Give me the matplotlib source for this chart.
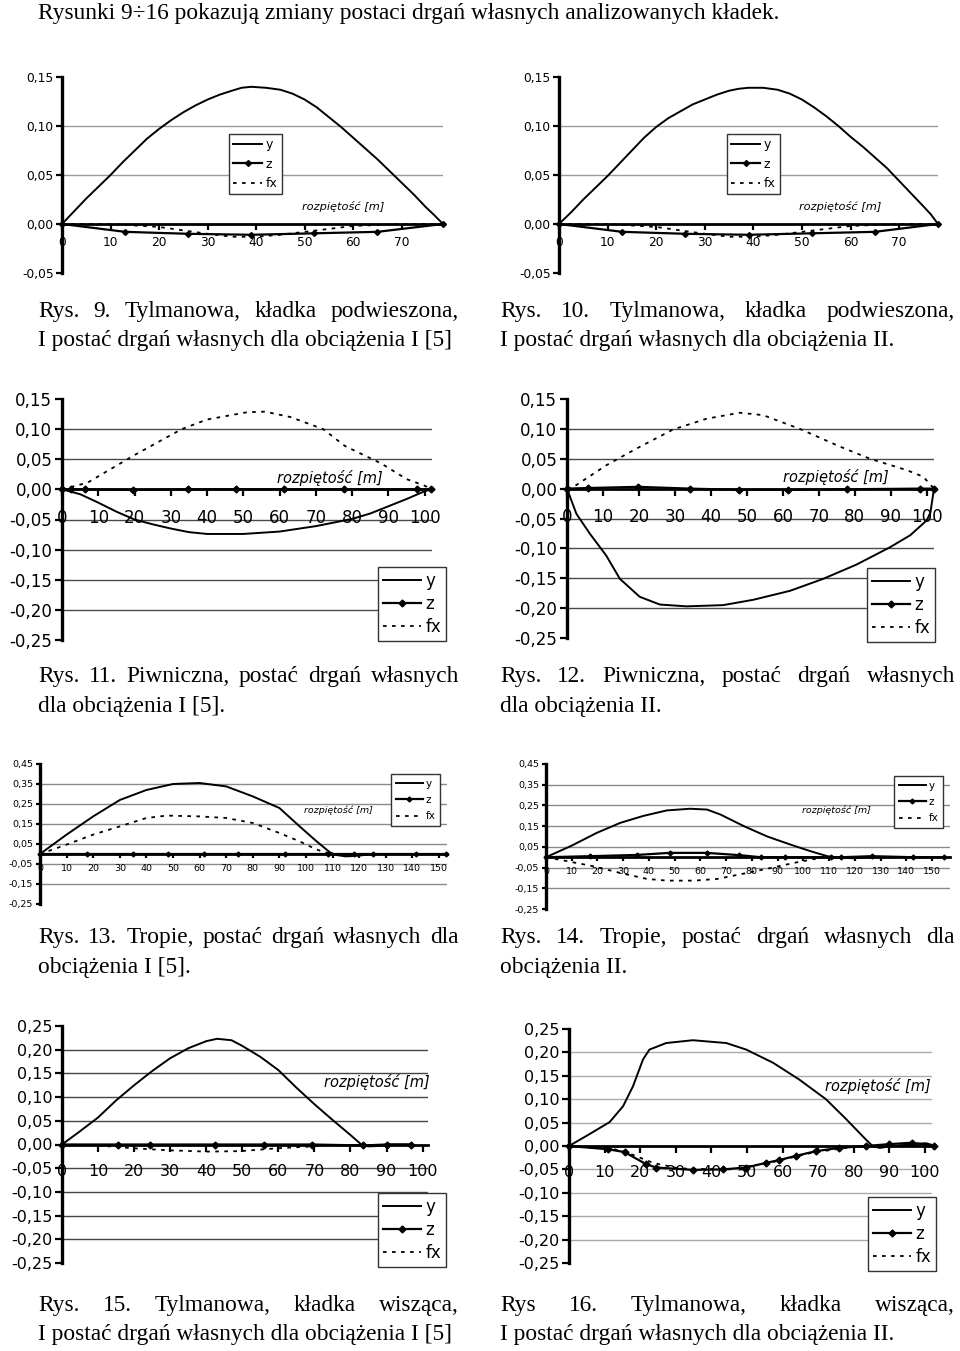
import matplotlib
matplotlib.use("Agg")
import matplotlib.pyplot as plt

W, H = 960, 1351

# ---------------- data ----------------
# Rys. 9
p9_y_x = [0, 2.5, 5, 7.5, 10, 12.5, 15, 17.5, 20, 22.5, 25, 27.5, 30, 32.5, 35, 37, 39, 42, 45, 47.5, 50, 52.5, 55, 57.5, 60, 62.5, 65, 67.5, 70, 72.5, 75, 76.5, 78.5]
p9_y = [0, 0.013, 0.026, 0.038, 0.05, 0.063, 0.075, 0.087, 0.097, 0.106, 0.114, 0.121, 0.127, 0.132, 0.136, 0.139, 0.14, 0.139, 0.137, 0.133, 0.127, 0.119, 0.109, 0.099, 0.088, 0.077, 0.066, 0.054, 0.042, 0.030, 0.017, 0.010, 0]
p9_z_x = [0, 13, 26, 39, 52, 65, 78.5]
p9_z = [0, -0.008, -0.010, -0.011, -0.0095, -0.008, 0]
p9_fx_x = [0, 10, 20, 30, 35, 40, 45, 50, 60, 70, 78.5]
p9_fx = [0, 0, -0.003, -0.010, -0.013, -0.013, -0.011, -0.008, -0.002, 0, 0]
# Rys. 10
p10_y_x = [0, 2.5, 5, 7.5, 10, 12.5, 15, 17.5, 20, 22.5, 25, 27.5, 30, 32.5, 35, 37, 39, 42, 45, 47.5, 50, 52.5, 55, 57.5, 60, 62.5, 65, 67.5, 70, 72.5, 75, 76.5, 78]
p10_y = [0, 0.012, 0.025, 0.037, 0.049, 0.062, 0.075, 0.088, 0.099, 0.108, 0.115, 0.122, 0.127, 0.132, 0.136, 0.138, 0.139, 0.139, 0.137, 0.133, 0.127, 0.119, 0.110, 0.100, 0.089, 0.079, 0.068, 0.057, 0.044, 0.031, 0.018, 0.01, 0]
p10_z_x = [0, 13, 26, 39, 52, 65, 78]
p10_z = [0, -0.008, -0.010, -0.011, -0.0095, -0.008, 0]
p10_fx_x = [0, 10, 20, 30, 35, 40, 45, 50, 60, 70, 78]
p10_fx = [0, 0, -0.003, -0.010, -0.013, -0.013, -0.011, -0.008, -0.002, 0, 0]
# Rys. 11
p11_y_x = [0, 5, 10, 15, 20, 25, 30, 35, 40, 50, 60, 70, 80, 85, 90, 95, 100, 102]
p11_y = [0, -0.008, -0.022, -0.037, -0.05, -0.058, -0.065, -0.071, -0.074, -0.074, -0.07, -0.061, -0.049, -0.04, -0.028, -0.016, -0.003, 0]
p11_z_x = [0, 2.5, 6.4, 19.7, 34.7, 47.9, 61.3, 77.7, 97.9, 101.8]
p11_z = [0, 0, 0, -0.001, 0, 0, 0, 0, 0, 0]
p11_fx_x = [0, 7, 20, 33, 40, 51, 56, 63, 72, 78, 88, 95, 100, 102]
p11_fx = [0, 0.011, 0.057, 0.1, 0.116, 0.128, 0.129, 0.12, 0.1, 0.072, 0.043, 0.017, 0.006, 0]
# Rys. 12
p12_y_x = [0, 2.6, 6.3, 10.9, 14.7, 20.2, 25.8, 33.2, 43.4, 51.8, 62, 71.2, 80.5, 89.8, 95.4, 100, 101, 102]
p12_y = [0, -0.042, -0.075, -0.112, -0.151, -0.181, -0.194, -0.197, -0.195, -0.186, -0.171, -0.151, -0.127, -0.098, -0.078, -0.053, -0.04, 0]
p12_z_x = [0, 5.7, 19.8, 34.3, 47.9, 61.5, 77.9, 98, 101.9]
p12_z = [0, 0.001, 0.003, 0, -0.002, -0.002, -0.001, 0, 0]
p12_fx_x = [0, 2.6, 10.9, 19.3, 29.5, 38.8, 48, 54.5, 64.7, 76, 84.2, 94.4, 99, 102]
p12_fx = [0, 0.006, 0.039, 0.067, 0.099, 0.117, 0.127, 0.123, 0.1, 0.07, 0.05, 0.031, 0.02, 0]
# Rys. 13
p13_y_x = [0, 10, 20, 30, 40, 50, 60, 70, 80, 90, 97.6, 104, 109, 111.4, 115, 120, 125, 153]
p13_y = [0, 0.097, 0.188, 0.27, 0.32, 0.35, 0.355, 0.338, 0.288, 0.23, 0.138, 0.063, 0.008, -0.005, -0.012, -0.008, 0, 0]
p13_z_x = [0, 17.8, 35, 48.2, 61.7, 74.5, 92, 108.3, 117.9, 125.2, 141.2, 152.7]
p13_z = [0, 0, 0, 0, 0, 0, 0, 0, 0, 0, 0, 0]
p13_fx_x = [0, 10, 20, 30, 40, 47.6, 60, 70, 80, 90, 97.6, 104, 109, 111]
p13_fx = [0, 0.047, 0.097, 0.138, 0.18, 0.192, 0.188, 0.18, 0.155, 0.105, 0.063, 0.022, 0.002, 0]
# Rys. 14
p14_y_x = [0, 10, 19.8, 28.9, 38, 47, 56, 62.6, 67.8, 76.9, 86, 95, 102.8, 109.3, 114.5, 119.7, 125, 135]
p14_y = [0, 0.056, 0.118, 0.166, 0.2, 0.226, 0.234, 0.23, 0.206, 0.15, 0.1, 0.061, 0.029, 0.005, -0.003, -0.005, 0, 0]
p14_z_x = [0, 17.2, 35.4, 48, 62.4, 75.1, 83.4, 92.9, 110.9, 114.8, 126.6, 142.7, 154.7]
p14_z = [0, 0.005, 0.011, 0.021, 0.021, 0.01, 0, 0, 0, 0, 0.005, 0, 0]
p14_fx_x = [0, 8.2, 18.5, 28.9, 39.3, 47, 57.5, 66.5, 76.9, 87.3, 97.7, 106.7, 110.6]
p14_fx = [0, -0.019, -0.044, -0.076, -0.105, -0.113, -0.113, -0.105, -0.079, -0.052, -0.024, -0.003, 0]
# Rys. 15
p15_y_x = [0, 5, 10, 15, 20, 25, 30, 35, 40, 43, 47, 50, 55, 60, 65, 70, 75, 80, 83, 85, 88, 90, 97]
p15_y = [0, 0.028, 0.057, 0.093, 0.125, 0.155, 0.182, 0.203, 0.218, 0.223, 0.22, 0.208, 0.185, 0.157, 0.12, 0.085, 0.052, 0.02, 0, -0.004, -0.003, 0, 0]
p15_z_x = [0, 15.4, 24.3, 42.3, 56.1, 69.3, 83.6, 90, 96.7]
p15_z = [0, 0, 0, 0, 0, 0, -0.002, 0, 0]
p15_fx_x = [0, 10, 19.9, 29, 40, 49.4, 59.6, 71.6, 75]
p15_fx = [0, -0.002, -0.008, -0.012, -0.015, -0.014, -0.008, -0.003, 0]
# Rys. 16
p16_y_x = [0, 5, 11.4, 15.2, 18, 20.8, 22.6, 27.3, 34.8, 44.2, 49.8, 57.3, 64.7, 72.2, 77.8, 83.4, 85.3, 87.2, 90.9, 96.5, 100.3, 102.6]
p16_y = [0, 0.022, 0.051, 0.085, 0.128, 0.185, 0.206, 0.22, 0.226, 0.22, 0.206, 0.178, 0.142, 0.1, 0.058, 0.014, 0, -0.004, 0, 0.004, 0.006, 0.001]
p16_z_x = [0, 11, 15.6, 21.7, 24.5, 34.8, 43.2, 49.8, 55.4, 59.1, 63.8, 69.4, 76, 83.4, 90, 96.5, 102.6]
p16_z = [0, -0.007, -0.013, -0.039, -0.046, -0.051, -0.05, -0.046, -0.036, -0.03, -0.021, -0.011, -0.004, 0, 0.004, 0.007, 0]
p16_fx_x = [0, 10, 15, 23.6, 31, 45, 56.3, 68.5, 77.8, 84, 88, 95, 102.6]
p16_fx = [0, -0.004, -0.01, -0.036, -0.048, -0.05, -0.036, -0.014, -0.004, 0, -0.003, 0.002, 0]

yticks_a = [-0.05, 0.0, 0.05, 0.10, 0.15]
yticks_b = [-0.25, -0.20, -0.15, -0.10, -0.05, 0.0, 0.05, 0.10, 0.15]
yticks_c = [-0.25, -0.15, -0.05, 0.05, 0.15, 0.25, 0.35, 0.45]
yticks_d = [-0.25, -0.20, -0.15, -0.10, -0.05, 0.0, 0.05, 0.10, 0.15, 0.20, 0.25]
xticks_80 = [0, 10, 20, 30, 40, 50, 60, 70]
xticks_100 = [0, 10, 20, 30, 40, 50, 60, 70, 80, 90, 100]
xticks_150 = [0, 10, 20, 30, 40, 50, 60, 70, 80, 90, 100, 110, 120, 130, 140, 150]

x_label = "rozpiętość [m]"
series_names = ["y", "z", "fx"]

title = "Rysunki 9÷16 pokazują zmiany postaci drgań własnych analizowanych kładek."
captions = [
    ("Rys. 9. Tylmanowa, kładka podwieszona,", "I postać drgań własnych dla obciążenia I [5]"),
    ("Rys. 10. Tylmanowa, kładka podwieszona,", "I postać drgań własnych dla obciążenia II."),
    ("Rys. 11. Piwniczna, postać drgań własnych", "dla obciążenia I [5]."),
    ("Rys. 12. Piwniczna, postać drgań własnych", "dla obciążenia II."),
    ("Rys. 13. Tropie, postać drgań własnych dla", "obciążenia I [5]."),
    ("Rys. 14. Tropie, postać drgań własnych dla", "obciążenia II."),
    ("Rys. 15. Tylmanowa, kładka wisząca,", "I postać drgań własnych dla obciążenia I [5]"),
    ("Rys 16. Tylmanowa, kładka wisząca,", "I postać drgań własnych dla obciążenia II."),
]

# ---------------- drawing ----------------
fig = plt.figure(figsize=(W / 100, H / 100), dpi=100)
fig.patch.set_facecolor("white")
SERIF = ["Liberation Serif", "DejaVu Serif"]
SANS = ["DejaVu Sans"]


def fx_(x):
    return x / W


def fy_(y):
    return 1 - y / H


def make_ax(left, top, right, bottom):
    return fig.add_axes([left / W, 1 - bottom / H, (right - left) / W, (bottom - top) / H])


def fmt(v):
    s = f"{v:.2f}".replace(".", ",")
    if s == "-0,00":
        s = "0,00"
    return s


def panel(box, xlim, ylim, yticks, xticks, data, fs, grid_color, tick_len, xpad,
          lab_pos, lab_fs, leg_pos, leg_fs, leg_kw, ms, lw_y=1.4, lw_z=1.6):
    ax = make_ax(*box)
    ax.set_xlim(*xlim)
    ax.set_ylim(*ylim)
    ax.patch.set_alpha(0)
    for s in ["top", "right"]:
        ax.spines[s].set_visible(False)
    ax.spines["bottom"].set_position(("data", 0))
    ax.spines["bottom"].set_linewidth(2.0)
    ax.spines["left"].set_linewidth(2.4)
    ax.spines["left"].set_zorder(5)
    ax.set_yticks(yticks, labels=[fmt(v) for v in yticks])
    ax.set_xticks(xticks, labels=[str(v) for v in xticks])
    ax.tick_params(axis="x", direction="out", length=tick_len, width=1.6, pad=xpad,
                   labelsize=fs, colors="black")
    ax.tick_params(axis="y", direction="out", length=tick_len, width=1.6, pad=2,
                   labelsize=fs, colors="black")
    for lbl in ax.get_xticklabels() + ax.get_yticklabels():
        lbl.set_fontfamily(SANS)
    for v in yticks:
        if abs(v) > 1e-9 and ylim[0] < v < ylim[1]:
            ax.axhline(v, color=grid_color, lw=1.0, zorder=0)
    (yx, yv), (zx, zv), (fxx, fxv) = data
    l1, = ax.plot(yx, yv, color="black", lw=lw_y, clip_on=False, zorder=3)
    l2, = ax.plot(zx, zv, color="black", lw=lw_z, marker="D", ms=ms, clip_on=False, zorder=4)
    l3, = ax.plot(fxx, fxv, color="black", lw=1.3, ls=(0, (2, 3)), clip_on=False, zorder=3)
    fig.text(fx_(lab_pos[0]), fy_(lab_pos[1]), x_label, fontsize=lab_fs, style="italic",
             family=SANS, ha="center", va="center")
    leg = fig.legend([l1, l2, l3], series_names, loc="upper left",
                     bbox_to_anchor=(fx_(leg_pos[0]), fy_(leg_pos[1])),
                     bbox_transform=fig.transFigure, frameon=True,
                     fancybox=False, edgecolor="#333333", framealpha=1,
                     prop={"family": SANS, "size": leg_fs},
                     borderaxespad=0, **leg_kw)
    leg.get_frame().set_linewidth(1.0)
    return ax


small_leg = dict(handlelength=2.3, handletextpad=0.25, labelspacing=0.5, borderpad=0.35)
big_leg = dict(handlelength=2.3, handletextpad=0.25, labelspacing=0.3, borderpad=0.3)
tiny_leg = dict(handlelength=2.6, handletextpad=0.25, labelspacing=0.6, borderpad=0.45)

panel((62, 77, 443, 273), (0, 78.5), (-0.05, 0.15), yticks_a, xticks_80,
      [(p9_y_x, p9_y), (p9_z_x, p9_z), (p9_fx_x, p9_fx)], 8.8, "#9a9a9a", 4, 5,
      (343, 207), 8.2, (229, 134), 9, small_leg, 3)
panel((559, 77, 938, 273), (0, 78), (-0.05, 0.15), yticks_a, xticks_80,
      [(p10_y_x, p10_y), (p10_z_x, p10_z), (p10_fx_x, p10_fx)], 8.8, "#9a9a9a", 4, 5,
      (840, 207), 8.2, (727, 134), 9, small_leg, 3)
panel((62, 399, 432, 640), (0, 102), (-0.25, 0.15), yticks_b, xticks_100,
      [(p11_y_x, p11_y), (p11_z_x, p11_z), (p11_fx_x, p11_fx)], 12, "#4a4a4a", 5, 9,
      (330, 478), 10.5, (378, 567), 12, big_leg, 3.5)
panel((567, 399, 934, 638), (0, 102), (-0.25, 0.15), yticks_b, xticks_100,
      [(p12_y_x, p12_y), (p12_z_x, p12_z), (p12_fx_x, p12_fx)], 12, "#4a4a4a", 5, 9,
      (836, 477), 10.5, (867, 568), 12, big_leg, 3.5)
panel((40, 764, 447, 904), (0, 153), (-0.25, 0.45), yticks_c, xticks_150,
      [(p13_y_x, p13_y), (p13_z_x, p13_z), (p13_fx_x, p13_fx)], 6.8, "#8a8a8a", 3, 4,
      (338, 810), 6.8, (391, 774), 7.5, tiny_leg, 2.5)
panel((546, 764, 950, 909), (0, 157), (-0.25, 0.45), yticks_c, xticks_150,
      [(p14_y_x, p14_y), (p14_z_x, p14_z), (p14_fx_x, p14_fx)], 6.8, "#8a8a8a", 3, 4,
      (836, 810), 6.8, (894, 776), 7.5, tiny_leg, 2.5)
panel((62, 1026, 428, 1263), (0, 101.5), (-0.25, 0.25), yticks_d, xticks_100,
      [(p15_y_x, p15_y), (p15_z_x, p15_z), (p15_fx_x, p15_fx)], 11.5, "#444444", 5, 9,
      (377, 1082), 10.5, (378, 1193), 12, big_leg, 3.5)
panel((569, 1029, 932, 1263), (0, 102), (-0.25, 0.25), yticks_d, xticks_100,
      [(p16_y_x, p16_y), (p16_z_x, p16_z), (p16_fx_x, p16_fx)], 11.5, "#aaaaaa", 5, 9,
      (878, 1086), 10.5, (868, 1197), 12, big_leg, 3.5)

# ---------------- texts ----------------
FS_TXT = 16.8
renderer = fig.canvas.get_renderer()
BASE = 6  # baseline offset below visual centre (px)


def justify(line, x0, x1, y):
    words = line.split()
    texts = [fig.text(0, 0, w, fontsize=FS_TXT, family=SERIF, va="baseline", ha="left") for w in words]
    widths = [t.get_window_extent(renderer).width for t in texts]
    gap = (x1 - x0 - sum(widths)) / max(len(words) - 1, 1)
    x = x0
    for t, w in zip(texts, widths):
        t.set_position((fx_(x), fy_(y + BASE)))
        x += w + gap


fig.text(fx_(38), fy_(13 + BASE), title, fontsize=FS_TXT, family=SERIF, va="baseline", ha="left")

rows_y = [(311, 340), (676, 706), (937, 967), (1305, 1334)]
cols_x = [(38, 459), (500, 955)]
for i, (l1, l2) in enumerate(captions):
    r, c = divmod(i, 2)
    y1, y2 = rows_y[r]
    x0, x1 = cols_x[c]
    justify(l1, x0, x1, y1)
    fig.text(fx_(x0), fy_(y2 + BASE), l2, fontsize=FS_TXT, family=SERIF, va="baseline", ha="left")

fig.savefig("out.png", dpi=100, facecolor="white")
